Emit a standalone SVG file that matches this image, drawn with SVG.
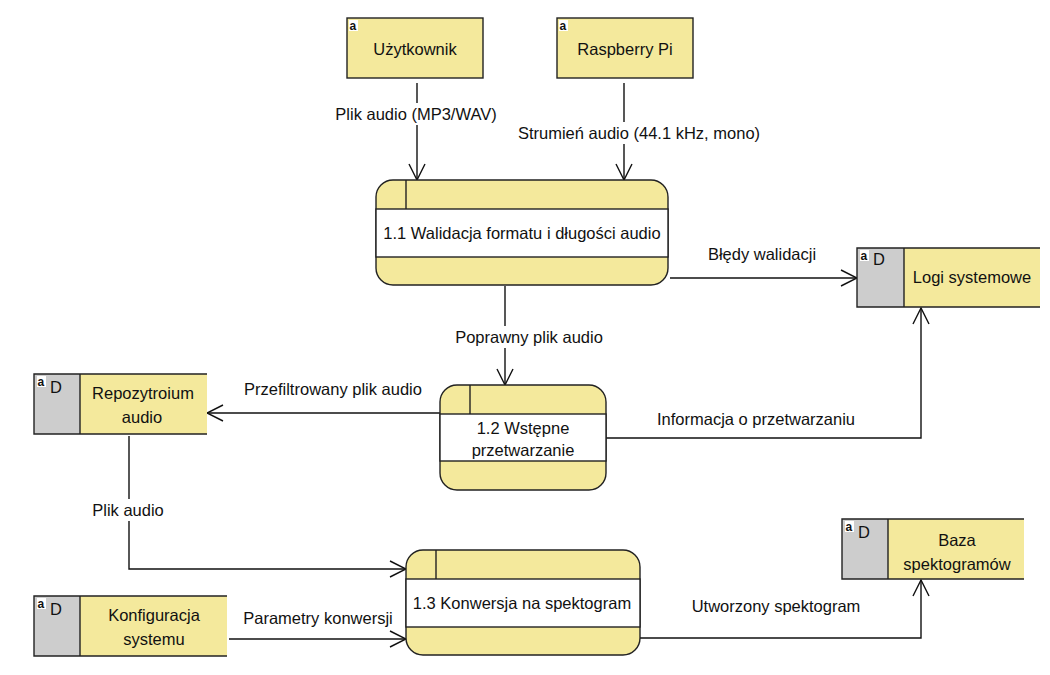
<svg xmlns="http://www.w3.org/2000/svg" width="1050" height="675" viewBox="0 0 1050 675">
<style>
text{font-family:"Liberation Sans",Arial,sans-serif;font-size:16.5px;fill:#111;text-anchor:middle}
.ent{fill:#F4E99C;stroke:#222;stroke-width:1.4}
.yel{fill:#F4E99C;stroke:none}
.grey{fill:#CDCDCD;stroke:none}
.edge{fill:none;stroke:#222;stroke-width:1.4}
.proc{fill:#F4E99C;stroke:#222;stroke-width:1.4}
.band{fill:#FFFFFF;stroke:#222;stroke-width:1.4}
.conn{fill:none;stroke:#111;stroke-width:1.4;marker-end:url(#arr)}
.bg{fill:#FFFFFF}
.ic{fill:#FFFFFF}
.ict{font-size:12px;font-weight:bold;text-anchor:start}
.d{text-anchor:start}
</style>
<defs>
<marker id="arr" markerUnits="userSpaceOnUse" viewBox="0 0 18 18" refX="17" refY="9" markerWidth="18" markerHeight="18" orient="auto">
<path d="M1,1 L17,9 L1,17" fill="none" stroke="#111" stroke-width="1.4"/>
</marker>
</defs>

<g id="connectors">
<line class="conn" x1="417" y1="83" x2="417" y2="180"/>
<rect class="bg" x="331" y="103" width="170" height="22"/>
<text x="416" y="120">Plik audio (MP3/WAV)</text>

<line class="conn" x1="624" y1="83" x2="624" y2="180"/>
<rect class="bg" x="514" y="122" width="250" height="22"/>
<text x="639" y="139">Strumień audio (44.1 kHz, mono)</text>

<line class="conn" x1="670" y1="278" x2="857" y2="278"/>
<text x="762" y="260">Błędy walidacji</text>

<line class="conn" x1="505" y1="286" x2="505" y2="385"/>
<rect class="bg" x="451" y="326" width="156" height="22"/>
<text x="529" y="343">Poprawny plik audio</text>

<line class="conn" x1="440" y1="413" x2="207" y2="413"/>
<text x="333" y="395">Przefiltrowany plik audio</text>

<polyline class="conn" points="606,438 921,438 921,308"/>
<text x="756" y="425">Informacja o przetwarzaniu</text>

<polyline class="conn" points="129,436 129,569 406,569"/>
<rect class="bg" x="86" y="499" width="84" height="22"/>
<text x="128" y="516">Plik audio</text>

<line class="conn" x1="229" y1="639" x2="406" y2="639"/>
<text x="318" y="624">Parametry konwersji</text>

<polyline class="conn" points="640,638 921,638 921,580"/>
<text x="776" y="612">Utworzony spektogram</text>
</g>

<g id="uzytkownik">
<rect class="ent" x="347" y="18" width="136" height="60"/>
<rect class="ic" x="349" y="20" width="9" height="11"/>
<text class="ict" x="349.5" y="30">a</text>
<text x="415" y="55">Użytkownik</text>
</g>

<g id="raspberry">
<rect class="ent" x="557" y="18" width="136" height="60"/>
<rect class="ic" x="559" y="20" width="9" height="11"/>
<text class="ict" x="559.5" y="30">a</text>
<text x="625" y="55">Raspberry Pi</text>
</g>

<g id="p11">
<rect class="proc" x="376" y="180" width="292" height="105" rx="17"/>
<rect class="band" x="376" y="209" width="292" height="48"/>
<line class="edge" x1="406" y1="180" x2="406" y2="209"/>
<text x="522" y="239">1.1 Walidacja formatu i długości audio</text>
</g>

<g id="p12">
<rect class="proc" x="440" y="385" width="166" height="105" rx="17"/>
<rect class="band" x="440" y="414" width="166" height="47"/>
<line class="edge" x1="470" y1="385" x2="470" y2="414"/>
<text x="523" y="434">1.2 Wstępne</text>
<text x="523" y="456">przetwarzanie</text>
</g>

<g id="p13">
<rect class="proc" x="406" y="550" width="234" height="105" rx="17"/>
<rect class="band" x="406" y="579" width="234" height="48"/>
<line class="edge" x1="436" y1="550" x2="436" y2="579"/>
<text x="522" y="609">1.3 Konwersja na spektogram</text>
</g>

<g id="logi">
<rect class="grey" x="857" y="248" width="47" height="59"/>
<rect class="yel" x="904" y="248" width="136" height="59"/>
<path class="edge" d="M1040,248 H857 V307 H1040 M904,248 V307"/>
<rect class="ic" x="860" y="250" width="9" height="11"/>
<text class="ict" x="860.5" y="260">a</text>
<text class="d" x="873" y="265">D</text>
<text x="972" y="283">Logi systemowe</text>
</g>

<g id="repozytorium">
<rect class="grey" x="34" y="374" width="46" height="60"/>
<rect class="yel" x="80" y="374" width="127" height="60"/>
<path class="edge" d="M207,374 H34 V434 H207 M80,374 V434"/>
<rect class="ic" x="37" y="376" width="9" height="11"/>
<text class="ict" x="37.5" y="386">a</text>
<text class="d" x="50" y="393">D</text>
<text x="143" y="399">Repozytroium</text>
<text x="142" y="423">audio</text>
</g>

<g id="baza">
<rect class="grey" x="842" y="519" width="46" height="60"/>
<rect class="yel" x="888" y="519" width="136" height="60"/>
<path class="edge" d="M1024,519 H842 V579 H1024 M888,519 V579"/>
<rect class="ic" x="845" y="521" width="9" height="11"/>
<text class="ict" x="845.5" y="531">a</text>
<text class="d" x="858" y="538">D</text>
<text x="957" y="546">Baza</text>
<text x="957" y="570">spektogramów</text>
</g>

<g id="konfiguracja">
<rect class="grey" x="34" y="596" width="46" height="60"/>
<rect class="yel" x="80" y="596" width="147" height="60"/>
<path class="edge" d="M227,596 H34 V656 H227 M80,596 V656"/>
<rect class="ic" x="37" y="598" width="9" height="11"/>
<text class="ict" x="37.5" y="608">a</text>
<text class="d" x="50" y="615">D</text>
<text x="154" y="621">Konfiguracja</text>
<text x="154" y="645">systemu</text>
</g>
</svg>
